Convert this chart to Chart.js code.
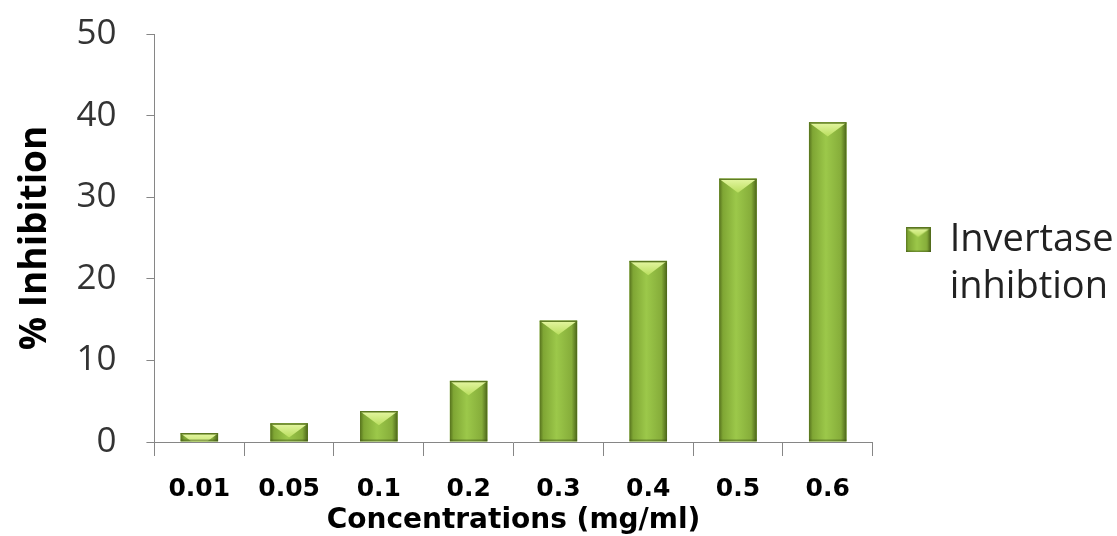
<!DOCTYPE html>
<html>
<head>
<meta charset="utf-8">
<script src="https://cdn.jsdelivr.net/npm/chart.js@4.4.0/dist/chart.umd.min.js"></script>
<style>
  html, body { margin: 0; background: #fff; }
  #wrap { width: 1117px; height: 536px; }
</style>
</head>
<body>
<div id="wrap"><canvas id="chart"></canvas></div>
<script>
const concentrations = ['0.01', '0.05', '0.1', '0.2', '0.3', '0.4', '0.5', '0.6'];
const inhibition = [1.1, 2.3, 3.8, 7.5, 14.9, 22.2, 32.3, 39.2];
const seriesName = ['Invertase', 'inhibtion'];
const yTicks = [0, 10, 20, 30, 40, 50];

const axisGrey = '#868686';

// paints one bar with the shaded sides and the light chevron on top
function paintBar(ctx, left, top, w, h) {
  if (h <= 0) return;
  ctx.save();
  ctx.beginPath();
  ctx.rect(left, top, w, h);
  ctx.clip();

  const g = ctx.createLinearGradient(left, 0, left + w, 0);
  g.addColorStop(0, '#55711c');
  g.addColorStop(0.1, '#7fa634');
  g.addColorStop(0.45, '#9cc84a');
  g.addColorStop(0.85, '#86ad3a');
  g.addColorStop(1, '#4a6318');
  ctx.fillStyle = g;
  ctx.fillRect(left, top, w, h);

  const d = w * 0.38;
  const hg = ctx.createLinearGradient(0, top, 0, top + d);
  hg.addColorStop(0, '#e6f7a4');
  hg.addColorStop(1, '#b9de5e');
  ctx.fillStyle = hg;
  ctx.beginPath();
  ctx.moveTo(left + 1, top + 1);
  ctx.lineTo(left + w - 1, top + 1);
  ctx.lineTo(left + w / 2, top + d);
  ctx.closePath();
  ctx.fill();

  ctx.fillStyle = '#5a7620';
  ctx.fillRect(left, top, w, 1.5);
  ctx.fillStyle = 'rgba(60,80,20,0.45)';
  ctx.fillRect(left, top + h - 2, w, 2);
  ctx.restore();
}

const bevelBars = {
  id: 'bevelBars',
  afterDatasetsDraw(chart) {
    const ctx = chart.ctx;
    chart.getDatasetMeta(0).data.forEach(bar => {
      const { x, y, base, width } = bar.getProps(['x', 'y', 'base', 'width'], true);
      paintBar(ctx, x - width / 2, y, width, base - y);
    });
  }
};

// legend swatch with the same look
const legendIcon = document.createElement('canvas');
legendIcon.width = 25;
legendIcon.height = 25;
paintBar(legendIcon.getContext('2d'), 0, 0, 25, 25);

const ctx = document.getElementById('chart').getContext('2d');
new Chart(ctx, {
  type: 'bar',
  data: {
    labels: concentrations,
    datasets: [{
      label: seriesName,
      data: inhibition,
      backgroundColor: '#8fb843',
      borderWidth: 0,
      barPercentage: 0.42,
      categoryPercentage: 1
    }]
  },
  options: {
    responsive: true,
    maintainAspectRatio: false,
    animation: false,
    layout: { padding: { left: 13, top: 34, right: -1, bottom: 1 } },
    scales: {
      x: {
        ticks: { color: '#000', padding: 18, font: { family: 'DejaVu Sans', size: 25, weight: 'bold' } },
        grid: { drawOnChartArea: false, tickLength: 14, color: axisGrey, offset: true },
        border: { color: axisGrey, width: 1 },
        title: {
          display: true,
          text: 'Concentrations (mg/ml)',
          color: '#000',
          font: { family: 'DejaVu Sans', size: 28, weight: 'bold', lineHeight: 1 },
          padding: { top: -15, bottom: 0 }
        }
      },
      y: {
        min: 0,
        max: 50,
        afterBuildTicks: s => { s.ticks = yTicks.map(v => ({ value: v })); },
        // small lineHeight keeps the label from padding the top of the plot
        ticks: { color: '#333', padding: 30, font: { family: 'Open Sans', size: 35, lineHeight: 0.1 } },
        grid: { drawOnChartArea: false, tickLength: 8, color: axisGrey },
        border: { color: axisGrey, width: 1 },
        title: {
          display: true,
          text: '% Inhibition',
          color: '#000',
          font: { family: 'Open Sans', size: 37, weight: 'bold', lineHeight: 1.2 },
          padding: { top: 0, bottom: -11 }
        }
      }
    },
    plugins: {
      legend: {
        position: 'right',
        align: 'center',
        title: { display: true, text: '', font: { size: 1 }, padding: { top: -34, bottom: 0 } },
        labels: {
          boxWidth: 25,
          boxHeight: 25,
          padding: 33,
          color: '#222',
          usePointStyle: true,
          pointStyle: legendIcon,
          font: { family: 'Open Sans', size: 38, lineHeight: 1.24 }
        }
      },
      tooltip: { enabled: false }
    }
  },
  plugins: [bevelBars]
});
</script>
</body>
</html>
